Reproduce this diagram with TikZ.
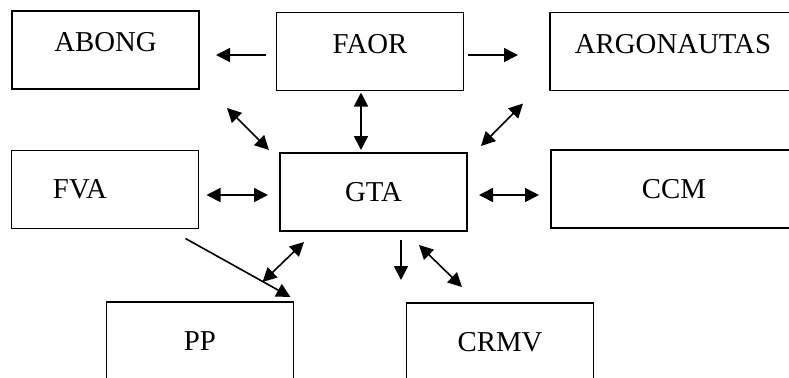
\documentclass[tikz,border=0pt]{standalone}
\usepackage{fontspec}
\setmainfont{Liberation Serif}
\usetikzlibrary{arrows.meta,calc}

\begin{document}
\begin{tikzpicture}[x=0.5pt,y=-0.5pt,
  box/.style={draw,line width=0.9pt,minimum width=93.5pt,minimum height=39pt,inner sep=0pt,outer sep=0pt,font=\fontsize{14.4pt}{17pt}\selectfont},
  toprow/.style={text depth=8pt},
  widebox/.style={minimum width=123pt},
  oneway/.style={line width=0.8pt,-{Triangle[length=7pt,width=7pt]}},
  twoway/.style={line width=0.8pt,{Triangle[length=7pt,width=7pt]}-{Triangle[length=7pt,width=7pt]}}]
\useasboundingbox (0,0) rectangle (789,377);
\clip (0,0) rectangle (789,377);
% boxes
\node[box,toprow] (abong) at (105.5,50) {ABONG};
\node[box,toprow] (faor) at (370,51.5) {FAOR};
\node[box,toprow,widebox] (argo) at (673,51.5) {ARGONAUTAS};
\node[box,text width=52pt,align=left] (fva) at (105,189.5) {FVA};
\node[box] (gta) at (373.5,192) {GTA};
\node[box,widebox] (ccm) at (674,189) {CCM};
\node[box] (pp) at (200,341) {PP};
\node[box] (crmv) at (500,342) {CRMV};
% arrows
\draw[oneway] ($(faor.west)+(-10.5,3.5)$) -- ($(abong.east)+(17,5)$);
\draw[oneway] ($(faor.east)+(4.5,3.5)$) -- ($(argo.west)+(-32,3.5)$);
\draw[twoway] ($(abong.south east)+(28,19)$) -- ($(gta.north west)+(-11,-3)$);
\draw[twoway] ($(faor.south)+(-9,2)$) -- ($(gta.north)+(-12.5,-3)$);
\draw[twoway] ($(argo.south west)+(-27,13)$) -- ($(gta.north east)+(14,-7)$);
\draw[twoway] ($(fva.east)+(8,5.5)$) -- ($(gta.west)+(-12,3)$);
\draw[twoway] ($(gta.east)+(12,3)$) -- ($(ccm.west)+(-12,6)$);
\draw[oneway] ($(fva.south east)+(-13,10)$) -- ($(pp.north east)+(-3,-5)$);
\draw[twoway] ($(gta.south west)+(24,11)$) -- ($(pp.north east)+(-31,-20)$);
\draw[oneway] ($(gta.south)+(27.5,9)$) -- ($(crmv.north west)+(-5.5,-23)$);
\draw[twoway] ($(gta.south)+(45.5,14)$) -- ($(crmv.north)+(-38,-16)$);
\end{tikzpicture}
\end{document}
